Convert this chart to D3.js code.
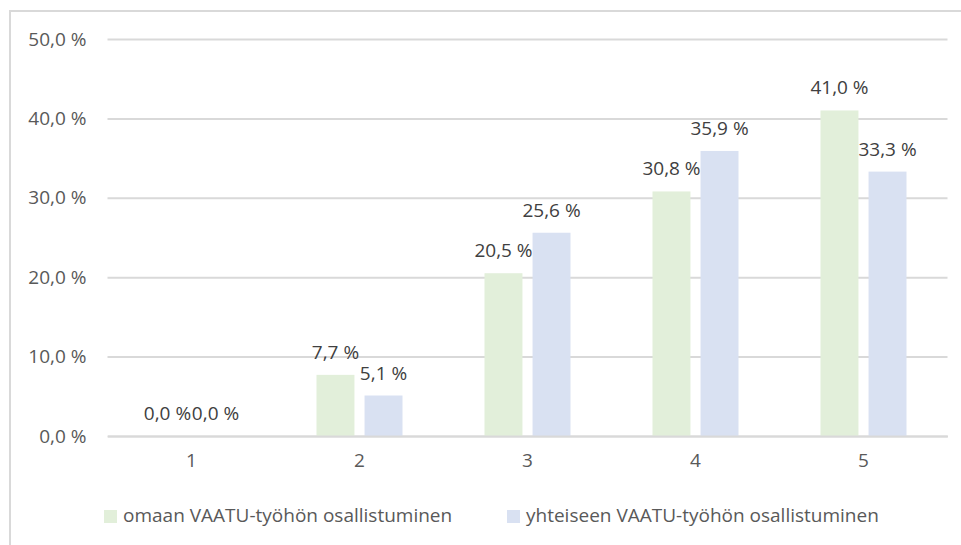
<!DOCTYPE html>
<html><head><meta charset="utf-8">
<script src="https://cdn.jsdelivr.net/npm/d3@7"></script>
<style>
html,body{margin:0;padding:0;background:#fff;}
svg{display:block;}
text{font-family:"Open Sans",sans-serif;}
</style></head>
<body>
<script>
const categories = ["1","2","3","4","5"];
const seriesNames = ["omaan VAATU-työhön osallistuminen","yhteiseen VAATU-työhön osallistuminen"];
const omaan = [0.0, 7.7, 20.5, 30.8, 41.0];
const yhteiseen = [0.0, 5.1, 25.6, 35.9, 33.3];
const yTicks = [0, 10, 20, 30, 40, 50];
const colors = ["#e2efda", "#d9e1f2"];

const W = 961, H = 545;
const FS = "19px";
const svg = d3.select("body").append("svg").attr("width", W).attr("height", H);

// outer border
svg.append("rect").attr("x", 10).attr("y", 11).attr("width", 970).attr("height", 560)
  .attr("fill", "none").attr("stroke", "#d9d9d9").attr("stroke-width", 2);

const plot = {left: 107.5, right: 947.5, top: 39, bottom: 436};
const y = d3.scaleLinear().domain([0, 50]).range([plot.bottom, plot.top]);
const x = d3.scaleBand().domain(categories).range([plot.left, plot.right]).paddingInner(0.488).paddingOuter(0.244);
const xs = d3.scaleBand().domain([0,1]).range([0, x.bandwidth()]).paddingInner(0.21);

const fmt = v => d3.format(".1f")(v).replace(".", ",") + " %";

// gridlines
const yAxis = d3.axisLeft(y).tickValues(yTicks).tickSize(-(plot.right - plot.left)).tickPadding(21).tickFormat(fmt);
const ga = svg.append("g").attr("transform", `translate(${plot.left},0)`).call(yAxis);
ga.select(".domain").remove();
ga.selectAll(".tick line").attr("stroke", "#d9d9d9").attr("stroke-width", 2);
ga.selectAll(".tick text").attr("fill", "#595959").style("font-size", FS).attr("font-family", "Open Sans");

// bars
const data = categories.map((c, i) => ({c, vals: [omaan[i], yhteiseen[i]]}));
const groups = svg.append("g").selectAll("g").data(data).join("g")
  .attr("transform", d => `translate(${x(d.c)},0)`);
groups.selectAll("rect").data(d => d.vals.map((v, k) => ({v, k}))).join("rect")
  .attr("x", d => xs(d.k)).attr("width", xs.bandwidth())
  .attr("y", d => y(d.v)).attr("height", d => y(0) - y(d.v))
  .attr("fill", d => colors[d.k]);
groups.selectAll("text").data(d => d.vals.map((v, k) => ({v, k}))).join("text")
  .attr("x", d => xs(d.k) + xs.bandwidth() / 2)
  .attr("y", d => y(d.v) - 16)
  .attr("text-anchor", "middle").attr("fill", "#404040").style("font-size", FS)
  .text(d => fmt(d.v));

// x axis
const xAxis = d3.axisBottom(x).tickSize(0).tickPadding(18);
const gx = svg.append("g").attr("transform", `translate(0,${plot.bottom})`).call(xAxis);
gx.select(".domain").attr("stroke", "#d9d9d9").attr("stroke-width", 2);
gx.selectAll(".tick text").attr("fill", "#595959").style("font-size", FS).attr("font-family", "Open Sans");

// legend
const legX = [104, 507];
const leg = svg.append("g").selectAll("g").data(seriesNames).join("g")
  .attr("transform", (d, i) => `translate(${legX[i]},510)`);
leg.append("rect").attr("width", 13).attr("height", 13).attr("fill", (d, i) => colors[i]);
leg.append("text").attr("x", 19).attr("y", 12).attr("fill", "#595959").style("font-size", FS).text(d => d);
</script>
</body></html>
